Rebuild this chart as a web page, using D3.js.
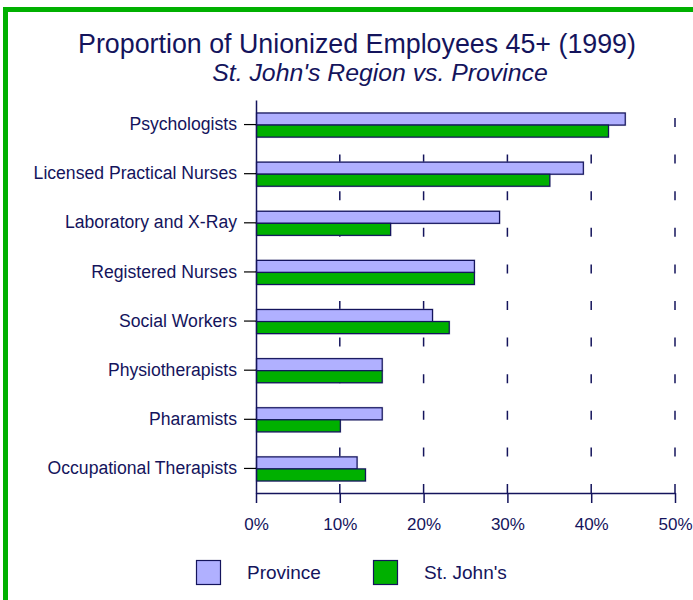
<!DOCTYPE html>
<html>
<head>
<meta charset="utf-8">
<script src="https://cdn.jsdelivr.net/npm/d3@7"></script>
<style>
  body { margin: 0; background: #fff; }
  svg { display: block; font-family: "Liberation Sans", Arial, sans-serif; }
</style>
</head>
<body>
<svg width="693" height="600"></svg>
<script>
var categories = ["Psychologists", "Licensed Practical Nurses", "Laboratory and X-Ray",
    "Registered Nurses", "Social Workers", "Physiotherapists", "Pharamists", "Occupational Therapists"];
var province = [44, 39, 29, 26, 21, 15, 15, 12];
var stJohns = [42, 35, 16, 26, 23, 15, 10, 13];
var seriesNames = ["Province", "St. John's"];
var xTicks = [0, 10, 20, 30, 40, 50];

var navy = "#14145c",
    colors = ["#b0b0ff", "#00b000"];

var svg = d3.select("svg"),
    margin = {top: 100, right: 18, bottom: 107, left: 256},
    width = 675 - margin.left,
    height = 493 - margin.top;

// green frame, cut off at right and bottom like the original
svg.append("rect")
    .attr("x", 5.5).attr("y", 9.5)
    .attr("width", 1000).attr("height", 1000)
    .attr("fill", "none")
    .attr("stroke", "#00b000")
    .attr("stroke-width", 5);

svg.append("text")
    .attr("x", 357).attr("y", 53)
    .attr("text-anchor", "middle")
    .attr("fill", navy)
    .style("font-size", "26.8px")
    .text("Proportion of Unionized Employees 45+ (1999)");

svg.append("text")
    .attr("x", 380).attr("y", 81)
    .attr("text-anchor", "middle")
    .attr("fill", navy)
    .style("font-size", "24.8px")
    .style("font-style", "italic")
    .text("St. John's Region vs. Province");

var g = svg.append("g").attr("transform", "translate(" + margin.left + "," + margin.top + ")");

var x = d3.scaleLinear().domain([0, 50]).range([0, width]);
var y = d3.scaleBand().domain(categories).range([0, height])
    .paddingInner(0.51).paddingOuter(0.255);
var y1 = d3.scaleBand().domain(seriesNames).range([0, y.bandwidth()]);

// dashed grid lines
g.selectAll(".grid")
    .data(xTicks.slice(1))
    .enter().append("line")
    .attr("x1", function(d) { return x(d); })
    .attr("x2", function(d) { return x(d); })
    .attr("y1", height).attr("y2", 0)
    .attr("stroke", navy)
    .attr("stroke-width", 1.5)
    .attr("stroke-dasharray", "9,27.6");

var rows = categories.map(function(c, i) {
    return {cat: c, vals: [province[i], stJohns[i]]};
});

var grp = g.selectAll(".cat")
    .data(rows)
    .enter().append("g")
    .attr("transform", function(d) { return "translate(0," + y(d.cat) + ")"; });

var bars = grp.selectAll(".bar")
    .data(function(d) { return d.vals.map(function(v, j) { return {name: seriesNames[j], v: v, j: j}; }); })
    .enter();

// soft shadow
bars.append("rect")
    .attr("x", 0)
    .attr("y", function(d) { return y1(d.name) - 0.5; })
    .attr("width", function(d) { return x(d.v) + 1.5; })
    .attr("height", y1.bandwidth() + 2)
    .attr("fill", "#8c8cb0")
    .attr("opacity", 0.5);

bars.append("rect")
    .attr("x", 0.5)
    .attr("y", function(d) { return y1(d.name) + 0.5; })
    .attr("width", function(d) { return x(d.v); })
    .attr("height", y1.bandwidth())
    .attr("fill", function(d) { return colors[d.j]; })
    .attr("stroke", navy)
    .attr("stroke-width", 1.2);

// axes
var xAxis = g.append("g")
    .attr("transform", "translate(0," + height + ")")
    .call(d3.axisBottom(x).tickValues(xTicks).tickFormat(function(d) { return d + "%"; })
        .tickSize(10).tickSizeOuter(0));
xAxis.select(".domain").attr("stroke", navy).attr("stroke-width", 1.5);
xAxis.selectAll(".tick line").attr("stroke", navy).attr("stroke-width", 1.5);
xAxis.selectAll("text")
    .attr("fill", navy)
    .attr("dy", "0.71em")
    .attr("y", 25)
    .style("font-size", "17px")
    .style("font-family", "Liberation Sans, Arial, sans-serif");

var yAxis = g.append("g")
    .call(d3.axisLeft(y).tickSize(12).tickSizeOuter(0).tickPadding(7));
yAxis.select(".domain").attr("stroke", navy).attr("stroke-width", 1.5);
yAxis.selectAll(".tick line").attr("stroke", "#000").attr("stroke-width", 1.2);
yAxis.selectAll("text")
    .attr("fill", navy)
    .style("font-size", "17.6px")
    .style("font-family", "Liberation Sans, Arial, sans-serif");

// legend
var legend = svg.append("g").selectAll("g")
    .data(seriesNames)
    .enter().append("g")
    .attr("transform", function(d, i) { return "translate(" + (196 + i * 177) + ",560)"; });

legend.append("rect")
    .attr("x", 0.5).attr("y", 0.5)
    .attr("width", 24).attr("height", 24)
    .attr("fill", function(d, i) { return colors[i]; })
    .attr("stroke", navy)
    .attr("stroke-width", 1.2);

legend.append("text")
    .attr("x", 51).attr("y", 19)
    .attr("fill", navy)
    .style("font-size", "19px")
    .text(function(d) { return d; });
</script>
</body>
</html>
